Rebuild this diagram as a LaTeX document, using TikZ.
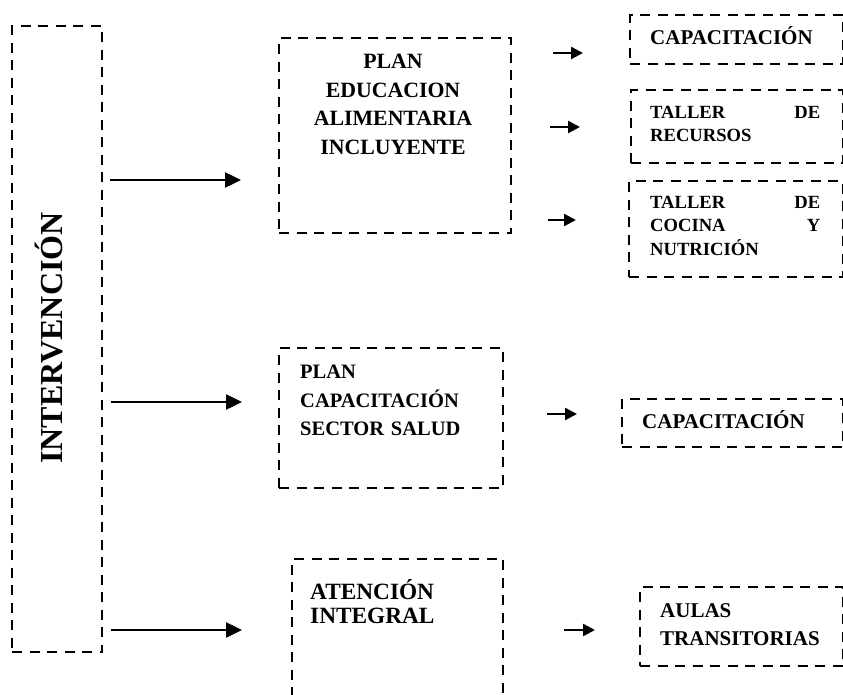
\documentclass[tikz,border=0pt]{standalone}
\usepackage{fontspec}
\setmainfont{Liberation Serif}
\newfontfamily\lsbold{Liberation Serif Bold}
\usetikzlibrary{arrows.meta}
\begin{document}
\begin{tikzpicture}[x=1pt,y=-1pt,
  dbox/.style={draw, line width=2.4pt, dash pattern=on 10pt off 7.5pt, inner sep=0pt, anchor=north west},
  txt/.style={inner sep=0pt, anchor=base west},
  bigarrow/.style={line width=2.5pt, -{Triangle[length=16pt,width=15pt]}},
  smallarrow/.style={line width=2.4pt, -{Triangle[length=12pt,width=12pt]}}]
\useasboundingbox (0,0) rectangle (843,695);
% boxes
\node[dbox, minimum width=90pt, minimum height=626pt] (intv) at (11,25) {};
\node[dbox, minimum width=232pt, minimum height=195pt] (pea) at (278,37) {};
\node[dbox, minimum width=224pt, minimum height=140pt] (pcs) at (278,347) {};
\node[dbox, minimum width=211pt, minimum height=150pt] (ai) at (291,558) {};
\node[dbox, minimum width=213pt, minimum height=49pt] (cap1) at (629,14) {};
\node[dbox, minimum width=212pt, minimum height=73pt] (tr) at (630,89) {};
\node[dbox, minimum width=214pt, minimum height=96pt] (tcn) at (628,180) {};
\node[dbox, minimum width=221pt, minimum height=48pt] (cap2) at (621,398) {};
\node[dbox, minimum width=203pt, minimum height=79pt] (aul) at (639,586) {};
% texts
\node[inner sep=0pt, rotate=90, anchor=base, font=\lsbold\fontsize{32}{32}\selectfont] (tintv) at (62,338) {INTERVENCIÓN};
\node[inner sep=0pt, anchor=base, text width=232pt, align=center, font=\lsbold\fontsize{21.8}{28.5}\selectfont] (tpea) at (393,69) {PLAN\\EDUCACION\\ALIMENTARIA\\INCLUYENTE};
\node[txt, text width=200pt, align=left, font=\lsbold\fontsize{20.5}{28.7}\selectfont] (tpcs) at (300,378.3) {PLAN\\CAPACITACIÓN\\SECTOR SALUD};
\node[txt, text width=190pt, align=left, font=\lsbold\fontsize{23.3}{24}\selectfont] (tai) at (310,599.3) {ATENCIÓN\\INTEGRAL};
\node[txt, font=\lsbold\fontsize{21}{21}\selectfont] (tcap1) at (650,45) {CAPACITACIÓN};
\node[txt, text width=170pt, font=\lsbold\fontsize{18.6}{23.5}\selectfont] (ttr) at (650,118.3) {TALLER\hfill DE\\RECURSOS};
\node[txt, text width=170pt, font=\lsbold\fontsize{18.6}{23.5}\selectfont] (ttcn) at (650,208.3) {TALLER\hfill DE\\COCINA\hfill Y\\NUTRICIÓN};
\node[txt, font=\lsbold\fontsize{21}{21}\selectfont] (tcap2) at (642,428.3) {CAPACITACIÓN};
\node[txt, text width=180pt, align=left, font=\lsbold\fontsize{21}{28}\selectfont] (taul) at (660,617.3) {AULAS\\TRANSITORIAS};
% arrow end points
\coordinate (a1s) at (110,180); \coordinate (a1e) at (241,180);
\coordinate (a2s) at (111,402); \coordinate (a2e) at (242,402);
\coordinate (a3s) at (111,630); \coordinate (a3e) at (242,630);
\coordinate (s1s) at (553,53);  \coordinate (s1e) at (583,53);
\coordinate (s2s) at (550,127); \coordinate (s2e) at (580,127);
\coordinate (s3s) at (548,220); \coordinate (s3e) at (576,220);
\coordinate (s4s) at (547,414); \coordinate (s4e) at (577,414);
\coordinate (s5s) at (564,630); \coordinate (s5e) at (595,630);
\draw[bigarrow] (a1s) -- (a1e);
\draw[bigarrow] (a2s) -- (a2e);
\draw[bigarrow] (a3s) -- (a3e);
\draw[smallarrow] (s1s) -- (s1e);
\draw[smallarrow] (s2s) -- (s2e);
\draw[smallarrow] (s3s) -- (s3e);
\draw[smallarrow] (s4s) -- (s4e);
\draw[smallarrow] (s5s) -- (s5e);
\end{tikzpicture}
\end{document}
